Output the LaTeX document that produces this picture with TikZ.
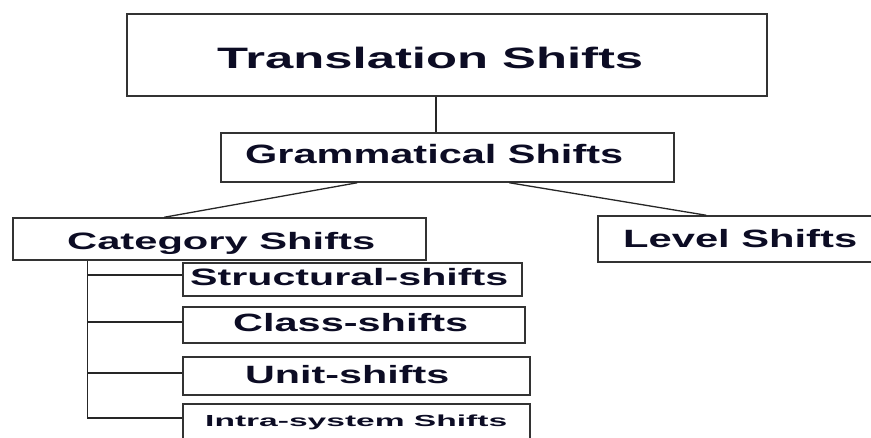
\documentclass[tikz,border=0pt]{standalone}
\usepackage{fontspec}
\setmainfont{Liberation Sans}
\usepackage{graphicx}
\definecolor{boxline}{HTML}{333333}
\definecolor{ink}{HTML}{0C0C24}
\newcommand\fsz[1]{\fontsize{#1}{#1}\selectfont\bfseries}
\newcommand\stretchtext[3]{\resizebox{#1pt}{\height}{\fsz{#2}#3}}
\tikzset{
  box/.style={draw=boxline, line width=1.5pt, inner sep=0pt, fill=white},
  lbl/.style={anchor=base west, inner sep=0pt, text=ink},
  conn/.style={draw=black!85, line width=1.3pt}
}
\begin{document}
\begin{tikzpicture}[x=1pt, y=-1pt]
\useasboundingbox (0,0) rectangle (871,437);
\clip (0,0) rectangle (871,437);
% boxes
\node[box, minimum width=640pt, minimum height=82pt] (trans) at (447,55) {};
\node[box, minimum width=453pt, minimum height=49pt] (gram) at (447.5,157.5) {};
\node[box, minimum width=413pt, minimum height=42pt] (cat) at (219.5,239) {};
\node[box, minimum width=276pt, minimum height=46pt] (level) at (736,239) {};
\node[box, minimum width=339pt, minimum height=33pt] (struct) at (352.5,279.5) {};
\node[box, minimum width=342pt, minimum height=36pt] (class) at (354,325) {};
\node[box, minimum width=347pt, minimum height=38pt] (unit) at (356.5,376) {};
\node[box, minimum width=347pt, minimum height=46pt] (intra) at (356.5,427) {};
% texts
\node[lbl] (transT) at (217,68) {\stretchtext{426}{29.5}{Translation Shifts}};
\node[lbl] (gramT) at (245,163) {\stretchtext{378}{26.5}{Grammatical Shifts}};
\node[lbl] (catT) at (67,249) {\stretchtext{308}{23.7}{Category Shifts}};
\node[lbl] (levelT) at (623,247) {\stretchtext{234}{25}{Level Shifts}};
\node[lbl] (structT) at (190,285) {\stretchtext{318}{23.7}{Structural-shifts}};
\node[lbl] (classT) at (233,331) {\stretchtext{235}{25}{Class-shifts}};
\node[lbl] (unitT) at (245,383) {\stretchtext{204}{25}{Unit-shifts}};
\node[lbl] (intraT) at (205,426) {\stretchtext{302}{16}{Intra-system Shifts}};
% connectors
\draw[conn] ([xshift=-11pt]trans.south) -- ([xshift=-11.5pt]gram.north);
\draw[conn] ([xshift=137pt]gram.south west) -- ([xshift=152pt]cat.north west);
\draw[conn] ([xshift=289pt]gram.south west) -- ([xshift=109pt]level.north west);
\coordinate (trunk) at ([xshift=75pt]cat.south west);
\coordinate (trunkend) at ([yshift=9pt]intra.west -| trunk);
\draw[conn] (trunk) -- (trunkend) -- ([yshift=9pt]intra.west);
\draw[conn] ([yshift=4.5pt]struct.west) -- ([yshift=4.5pt]struct.west -| trunk);
\draw[conn] ([yshift=3pt]class.west) -- ([yshift=3pt]class.west -| trunk);
\draw[conn] ([yshift=3pt]unit.west) -- ([yshift=3pt]unit.west -| trunk);
\end{tikzpicture}
\end{document}
